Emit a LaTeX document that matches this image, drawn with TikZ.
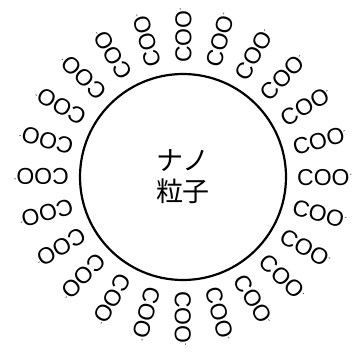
\documentclass[tikz,border=0pt]{standalone}
\usepackage{fontspec}
\setmainfont{Liberation Sans}
\newfontfamily\jpfont{Noto Sans CJK JP}
\usetikzlibrary{calc}
\begin{document}
\begin{tikzpicture}[x=1pt, y=1pt,
  every node/.style={font=\fontsize{23}{23}\selectfont},
  ligand/.style={anchor=west, inner sep=0pt, text height=16.5pt, text depth=0pt},
  particle/.style={circle, draw, line width=2.2pt, minimum size=206pt,
    align=center, font=\jpfont\fontsize{27}{31}\selectfont}]
  \useasboundingbox (0,-354) rectangle (357,0);
  % Nanoparticle
  \node[particle] (np) at (183,-177) {ナノ\\粒子};
  % Carboxylate groups around the surface
  \foreach \a in {0,15,...,345}
    \node[ligand, rotate=\a] (coo\a) at ($(np.center)+(\a:114)$) {COO\textsuperscript{\scriptsize -}};
\end{tikzpicture}
\end{document}
